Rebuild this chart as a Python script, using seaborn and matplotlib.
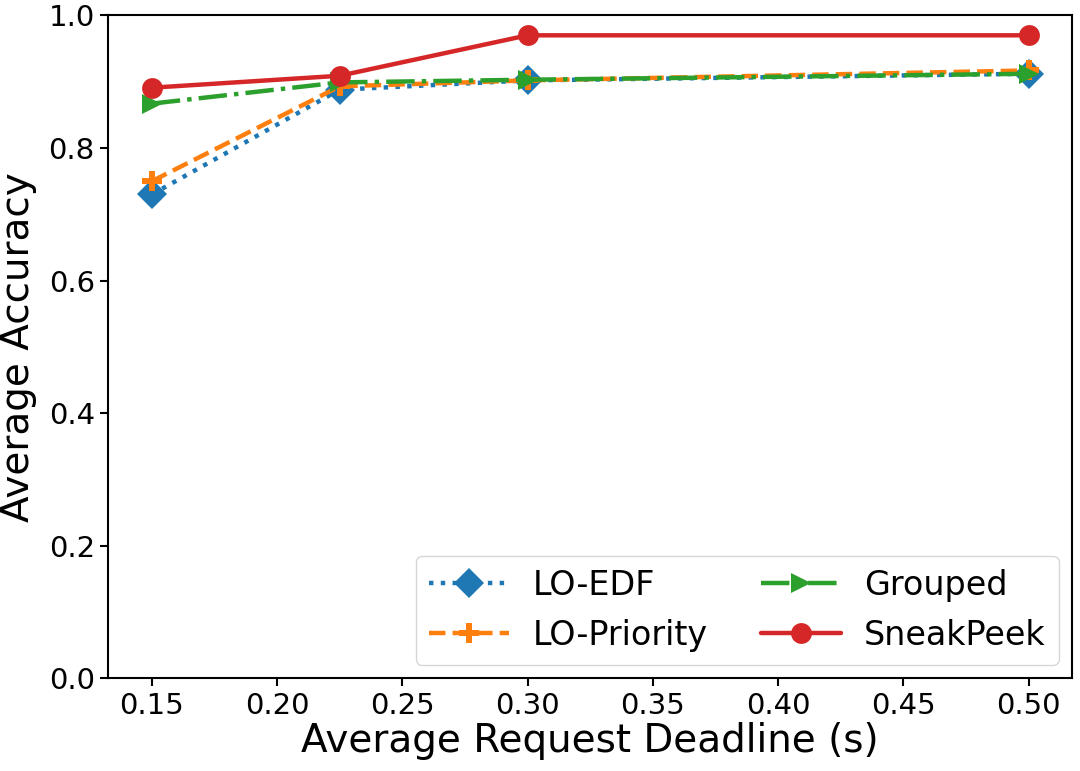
import numpy as np
import pandas as pd
import seaborn as sns
import matplotlib.pyplot as plt

deadlines = [0.15, 0.225, 0.30, 0.50]
lo_edf = [0.730, 0.888, 0.902, 0.912]
lo_priority = [0.750, 0.893, 0.902, 0.917]
grouped = [0.867, 0.899, 0.903, 0.912]
sneakpeek = [0.891, 0.909, 0.970, 0.970]

series = {"LO-EDF": lo_edf, "LO-Priority": lo_priority,
          "Grouped": grouped, "SneakPeek": sneakpeek}
styles = {"LO-EDF": (":", "D"), "LO-Priority": ("--", "P"),
          "Grouped": ("-.", ">"), "SneakPeek": ("-", "o")}

sns.set_style("ticks", {"text.color": "black", "axes.labelcolor": "black",
                        "xtick.color": "black", "ytick.color": "black",
                        "axes.edgecolor": "black"})
colors = sns.color_palette("tab10")

fig, ax = plt.subplots(figsize=(10.8, 7.71), dpi=100)
for i, (name, vals) in enumerate(series.items()):
    df = pd.DataFrame({"x": deadlines, "y": vals})
    ls, mk = styles[name]
    sns.lineplot(data=df, x="x", y="y", ax=ax, color=colors[i], linestyle=ls,
                 marker=mk, markersize=15, linewidth=3.2, markeredgewidth=0,
                 label=name)

ax.set_ylim(0, 1.0)
ax.set_xticks([0.15, 0.20, 0.25, 0.30, 0.35, 0.40, 0.45, 0.50])
ax.set_yticks([0.0, 0.2, 0.4, 0.6, 0.8, 1.0])
ax.tick_params(labelsize=21, length=6, width=1.5, colors="black")
ax.set_xlabel("Average Request Deadline (s)", fontsize=28, labelpad=2)
ax.set_ylabel("Average Accuracy", fontsize=28, labelpad=8)
for s in ax.spines.values():
    s.set_linewidth(1.5)
    s.set_color("black")
ax.legend(ncol=2, loc="lower right", fontsize=24, handlelength=2.4,
          handletextpad=0.7, columnspacing=1.6, borderaxespad=0.4)
plt.subplots_adjust(left=0.1, right=0.993, top=0.98, bottom=0.12)
plt.savefig("out.png", dpi=100)
